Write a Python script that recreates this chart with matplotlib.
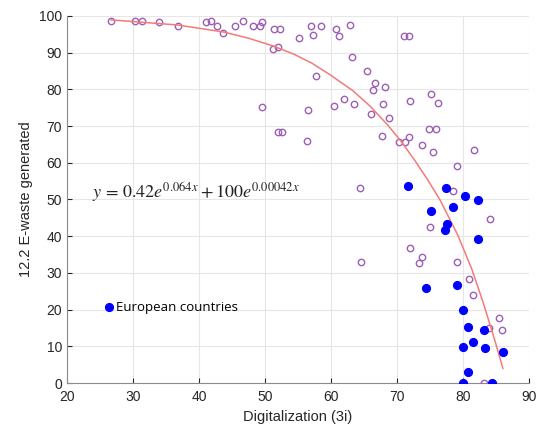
import matplotlib.pyplot as plt
import numpy as np

# all countries (hollow purple circles)
other_x = [26.7, 30.3, 31.4, 34.0, 36.8, 41.1, 41.8, 42.7, 43.7, 45.4, 46.7, 48.1,
           49.2, 49.6, 51.4, 52.3, 51.2, 52.0, 55.1, 49.5, 51.9, 52.5, 56.3, 56.5,
           56.9, 57.2, 58.4, 60.8, 61.2, 62.8, 63.1, 65.4, 66.7, 66.4, 68.1, 57.7,
           60.5, 62.0, 63.5, 67.9, 66.1, 68.7, 67.7, 71.0, 71.8, 72.0, 75.1, 76.2,
           74.8, 75.9, 70.3, 71.2, 71.8, 73.8, 75.4, 81.7, 79.1, 64.4, 78.5, 84.1,
           74.9, 72.0, 73.8, 73.3, 79.1, 64.5, 80.9, 81.5, 85.4, 83.9, 85.8, 83.1]
other_y = [98.7, 98.7, 98.7, 98.3, 97.1, 98.3, 98.7, 97.1, 95.3, 97.1, 98.7, 97.1,
           97.2, 98.3, 96.5, 96.5, 90.9, 91.5, 94.0, 75.1, 68.3, 68.3, 65.8, 74.3,
           97.1, 94.8, 97.1, 96.5, 94.5, 97.5, 88.8, 85.0, 81.6, 79.8, 80.7, 83.7,
           75.5, 77.3, 75.9, 75.9, 73.4, 72.1, 67.4, 94.5, 94.5, 76.8, 78.6, 76.4,
           69.1, 69.1, 65.7, 65.7, 66.9, 64.8, 63.0, 63.5, 59.2, 53.2, 52.4, 44.6,
           42.4, 36.9, 34.3, 32.6, 33.1, 33.1, 28.3, 24.1, 17.6, 15.0, 14.5, 0.0]

# European countries (filled blue)
eu_x = [71.6, 77.4, 80.3, 82.3, 78.5, 75.1, 77.6, 77.3, 82.2, 74.4, 79.1, 80.0,
        80.7, 83.1, 81.4, 80.0, 83.3, 86.0, 80.7, 80.0, 84.3]
eu_y = [53.7, 53.2, 51.0, 49.9, 48.0, 46.8, 43.3, 41.6, 39.1, 25.8, 26.6, 19.8,
        15.4, 14.5, 11.2, 9.9, 9.5, 8.5, 3.0, 0.0, 0.0]

# fitted curve
fit_x = [26.7, 36.8, 43.7, 47.5, 51.2, 54.3, 57.0, 59.8, 63.3, 65.9, 68.6, 70.6,
         72.6, 74.6, 76.5, 79.2, 81.3, 83.0, 84.8, 86.0]
fit_y = [98.9, 97.5, 95.6, 93.9, 91.8, 89.6, 87.2, 84.0, 79.6, 75.4, 70.2, 65.8,
         60.8, 55.4, 49.8, 40.2, 31.0, 22.0, 11.5, 4.0]

plt.rcParams['font.family'] = ['Liberation Sans', 'DejaVu Sans']

fig = plt.figure(figsize=(5.44, 4.28), dpi=100)
ax = fig.add_axes([0.123, 0.105, 0.85, 0.858])

ax.plot(other_x, other_y, 'o', markerfacecolor='none', markeredgecolor='#9c5fb5',
        markersize=4.6, markeredgewidth=1.0, zorder=3)
ax.plot(fit_x, fit_y, '-', color='#f47a7a', linewidth=1.1, zorder=4,
        solid_joinstyle='round')
ax.plot(eu_x, eu_y, 'o', color='#0000ff', markersize=5.6, zorder=5,
        label='European countries', linestyle='none')

ax.text(23.8, 51.8, r'$y\,=\,0.42e^{0.064x}+100e^{0.00042x}$', fontsize=13,
        math_fontfamily='stix', color='#222222', va='center')

ax.set_xlim(20, 90)
ax.set_ylim(0, 100)
ax.set_xticks(range(20, 91, 10))
ax.set_yticks(range(0, 101, 10))
ax.grid(True, color='#e6e6e6', linewidth=0.8)
ax.set_axisbelow(True)
ax.tick_params(direction='in', colors='#262626', labelsize=10, length=3.5)
ax.tick_params(axis='x', pad=5)
for s in ['top', 'right']:
    ax.spines[s].set_visible(False)
for s in ['left', 'bottom']:
    ax.spines[s].set_color('#8c8c8c')
ax.set_xlabel('Digitalization (3i)', fontsize=10.5, color='#262626')
ax.set_ylabel('12.2 E-waste generated', fontsize=10.5, color='#262626')

leg = ax.legend(loc='center left', bbox_to_anchor=(0.05, 0.205), frameon=False,
                handletextpad=0.1, handlelength=1.0, prop={'family': 'Open Sans', 'size': 9.5})

fig.savefig('out.png', dpi=100)
